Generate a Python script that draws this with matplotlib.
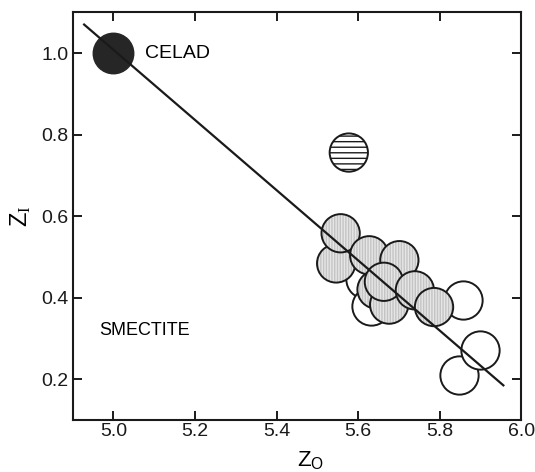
import matplotlib
matplotlib.use("Agg")
import matplotlib.pyplot as plt

plt.rcParams["font.family"] = ["Liberation Sans", "DejaVu Sans"]
plt.rcParams["mathtext.fontset"] = "custom"
plt.rcParams["mathtext.sf"] = "Liberation Sans"
plt.rcParams["mathtext.rm"] = "Liberation Serif"
plt.rcParams["mathtext.it"] = "Liberation Sans"
plt.rcParams["hatch.linewidth"] = 1.0

# celadonite end member
celad_x = [5.0]
celad_y = [1.0]

# horizontally ruled sample
ruled_x = [5.577]
ruled_y = [0.756]

# open circles
open_x = [5.617, 5.632, 5.856, 5.847, 5.898]
open_y = [0.445, 0.380, 0.394, 0.210, 0.271]

# stippled circles (drawing order)
stip_x = [5.546, 5.557, 5.627, 5.701, 5.645, 5.676, 5.663, 5.739, 5.786]
stip_y = [0.484, 0.558, 0.504, 0.492, 0.420, 0.383, 0.439, 0.418, 0.377]

# trend line
line_x = [4.928, 5.956]
line_y = [1.070, 0.185]

x_ticks = [5.0, 5.2, 5.4, 5.6, 5.8, 6.0]
y_ticks = [0.2, 0.4, 0.6, 0.8, 1.0]

fig = plt.figure(figsize=(5.35, 4.72), dpi=100)
ax = fig.add_axes([0.1359, 0.1102, 0.8385, 0.8637])

S = 760
EW = 1.4

for x, y in zip(open_x, open_y):
    ax.scatter([x], [y], s=S, facecolors="white", edgecolors="#1a1a1a", linewidths=EW)

for x, y in zip(stip_x, stip_y):
    ax.scatter([x], [y], s=S, facecolors="#e6e6e6", edgecolors="#c4c4c4",
               linewidths=0, hatch="||||||")
    ax.scatter([x], [y], s=S, facecolors="none", edgecolors="#1a1a1a", linewidths=EW)

ax.scatter(ruled_x, ruled_y, s=760, facecolors="white", edgecolors="#1a1a1a",
           linewidths=EW, hatch="---")

ax.plot(line_x, line_y, color="#1a1a1a", lw=1.6)

ax.scatter(celad_x, celad_y, s=850, facecolors="#262626", edgecolors="#262626",
           linewidths=1)

ax.text(5.077, 1.0, "CELAD", fontsize=14, ha="left", va="center")
ax.text(4.965, 0.32, "SMECTITE", fontsize=13, ha="left", va="center")

ax.set_xlim(4.9, 6.0)
ax.set_ylim(0.1, 1.1)
ax.set_xticks(x_ticks)
ax.set_yticks(y_ticks)
ax.set_xticklabels([f"{v:.1f}" for v in x_ticks])
ax.set_yticklabels([f"{v:.1f}" for v in y_ticks])
ax.tick_params(direction="in", length=6.5, width=1.4, top=True, right=True,
               labelsize=14, colors="#1a1a1a")
ax.tick_params(axis="x", pad=2)
ax.tick_params(axis="y", pad=3)
for sp in ax.spines.values():
    sp.set_linewidth(1.5)
    sp.set_color("#1a1a1a")

ax.set_xlabel(r"$\mathsf{Z}_{\mathsf{O}}$", fontsize=16)
ax.xaxis.set_label_coords(0.531, -0.072)
ax.set_ylabel(r"$\mathsf{Z}_{\mathrm{I}}$", fontsize=17)
ax.yaxis.set_label_coords(-0.088, 0.5)

fig.savefig("out.png", dpi=100)
